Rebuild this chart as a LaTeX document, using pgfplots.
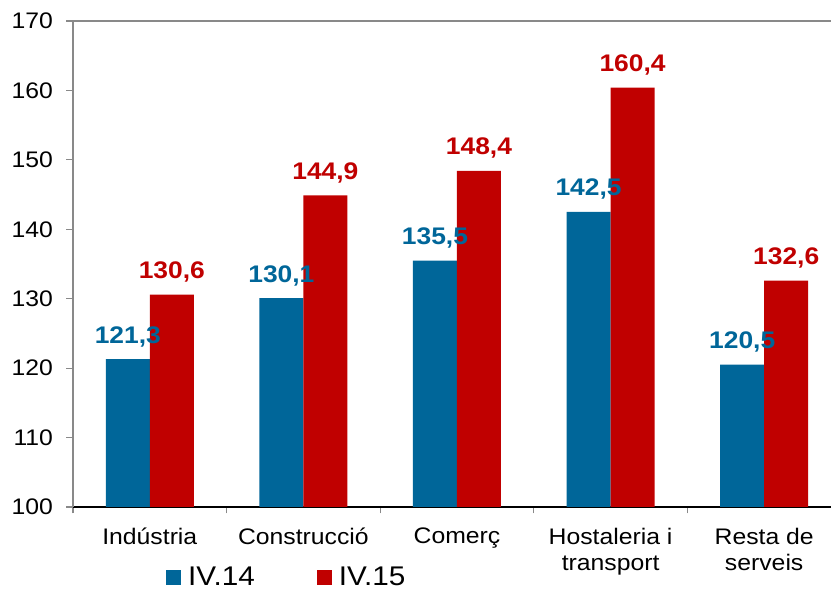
\documentclass[border=0pt]{standalone}
\usepackage{pgfplots}
\pgfplotsset{compat=1.18}
\usepackage{fontspec}
\setmainfont[FakeStretch=1.1]{Liberation Sans}
\definecolor{cblue}{RGB}{0,102,153}
\definecolor{cred}{RGB}{192,0,0}
\definecolor{axgray}{RGB}{137,137,137}
\begin{document}
\begin{tikzpicture}[x=1pt,y=1pt]
\useasboundingbox (0,0) rectangle (831,591);
\begin{axis}[
  at={(73pt,84pt)}, anchor=south west,
  scale only axis, width=758pt, height=486pt,
  ybar=0pt, bar width=44pt,
  xmin=-0.5, xmax=4.435, ymin=100, ymax=170,
  axis x line*=bottom, axis y line*=left,
  x axis line style={black, line width=1.2pt, -},
  y axis line style={axgray, line width=1.2pt, -},
  tick align=outside, major tick length=6.5pt,
  tick style={axgray, line width=1.2pt},
  ytick={100,110,...,170},
  xtick={-0.5,0.5,1.5,2.5,3.5}, xticklabels={},
  extra x ticks={0,1,2,3,4},
  extra x tick labels={Indústria,Construcció,Comerç,Hostaleria i\\transport,Resta de\\serveis},
  extra x tick style={tick style={draw=none}},
  /pgf/number format/assume math mode=true,
  yticklabel style={font=\fontsize{22.5}{26}\selectfont, xshift=-10pt},
  xticklabel style={font=\fontsize{22.5}{26}\selectfont, align=center, anchor=north, yshift=-11pt},
  nodes near coords={\pgfmathprintnumber[fixed,fixed zerofill,precision=1,use comma,assume math mode=true]{\pgfplotspointmeta}},
  nodes near coords style={font=\bfseries\fontsize{24}{28}\selectfont, anchor=base, yshift=16pt},
  legend style={at={(0.1227,-0.1445)}, anchor=west, draw=none, fill=none,
    legend columns=2, inner sep=0pt, font=\fontsize{27}{30}\selectfont,
    nodes={inner ysep=0pt},
    /tikz/every odd column/.append style={column sep=5pt},
    /tikz/every even column/.append style={column sep=60pt}},
]
\addplot[fill=cblue, draw=none, every node near coord/.append style={cblue},
  legend image code/.code={\fill[cblue] (0pt,-7.5pt) rectangle (15pt,7.5pt);}]
  coordinates {(0,121.3) (1,130.1) (2,135.5) (3,142.5) (4,120.5)};
\addplot[fill=cred, draw=none, every node near coord/.append style={cred},
  legend image code/.code={\fill[cred] (0pt,-7.5pt) rectangle (15pt,7.5pt);}]
  coordinates {(0,130.6) (1,144.9) (2,148.4) (3,160.4) (4,132.6)};
\legend{IV.14,IV.15}
\draw[axgray, line width=1.2pt] (rel axis cs:0,1) -- (rel axis cs:1,1);
\end{axis}
\end{tikzpicture}
\end{document}
